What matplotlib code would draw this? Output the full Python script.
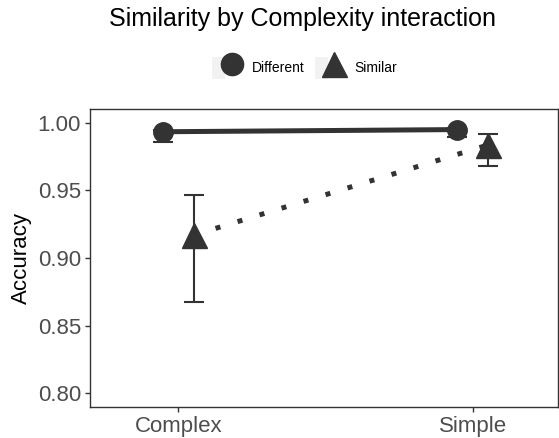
import matplotlib
matplotlib.use('Agg')
import matplotlib.pyplot as plt
import numpy as np
from matplotlib.lines import Line2D
from matplotlib.patches import Rectangle
from matplotlib.legend_handler import HandlerTuple

plt.rcParams['font.family'] = ['Liberation Sans', 'DejaVu Sans']

# data
complexity = ['Complex', 'Simple']
groups = ['Different', 'Similar']
acc_different = [0.9934, 0.9950]
lo_different = [0.9855, 0.9897]
hi_different = [0.9950, 0.9965]
acc_similar = [0.9170, 0.9836]
lo_similar = [0.8675, 0.9683]
hi_similar = [0.9470, 0.9914]

dark = '#333333'
dodge = 0.052

fig = plt.figure(figsize=(5.59, 4.38), dpi=100)
ax = fig.add_axes([0.161, 0.0708, 0.837, 0.680])

x = np.arange(1, len(complexity) + 1)

series = [
    (acc_different, lo_different, hi_different, -dodge, 'o', 14, '-'),
    (acc_similar, lo_similar, hi_similar, dodge, '^', 18, (0, (1.0, 3.6))),
]
for acc, lo, hi, off, mk, ms, ls in series:
    acc = np.array(acc)
    yerr = [acc - np.array(lo), np.array(hi) - acc]
    xs = x + off
    ax.errorbar(xs, acc, yerr=yerr, fmt='none', ecolor=dark, elinewidth=1.5,
                capsize=7.5, capthick=1.5, zorder=2)
    ax.plot(xs, acc, color=dark, linestyle=ls, linewidth=3.6, zorder=3)
    ax.plot(xs, acc, linestyle='none', marker=mk, markersize=ms, color=dark, zorder=4)

ax.set_xlim(0.70, 2.29)
ax.set_ylim(0.79, 1.0101)
ax.set_xticks(x)
ax.set_xticklabels(complexity)
ax.set_yticks([0.80, 0.85, 0.90, 0.95, 1.00])
ax.set_yticklabels(['0.80', '0.85', '0.90', '0.95', '1.00'])
ax.tick_params(axis='both', labelsize=16, labelcolor='#4d4d4d', color='#333333',
               length=3.5, width=1, direction='out', pad=3)
for s in ax.spines.values():
    s.set_color('#333333')
    s.set_linewidth(1.0)
ax.set_ylabel('Accuracy', fontsize=16, color='black', labelpad=4)

fig.text(0.541, 0.957, 'Similarity by Complexity interaction', fontsize=18,
         ha='center', va='center', color='black')

handles = []
for mk, ms in [('o', 16), ('^', 18)]:
    bg = Rectangle((0, 0), 1, 1, facecolor='#f2f2f2', edgecolor='none')
    m = Line2D([], [], linestyle='none', marker=mk, markersize=ms, color=dark)
    handles.append((bg, m))
fig.legend(handles, groups, ncol=2, loc='center', bbox_to_anchor=(0.545, 0.845),
           frameon=False, fontsize=10, handlelength=1.9, handleheight=2.1,
           handletextpad=1.0, columnspacing=0.7,
           handler_map={tuple: HandlerTuple(ndivide=None, pad=0)})

fig.savefig('out.png', dpi=100)
